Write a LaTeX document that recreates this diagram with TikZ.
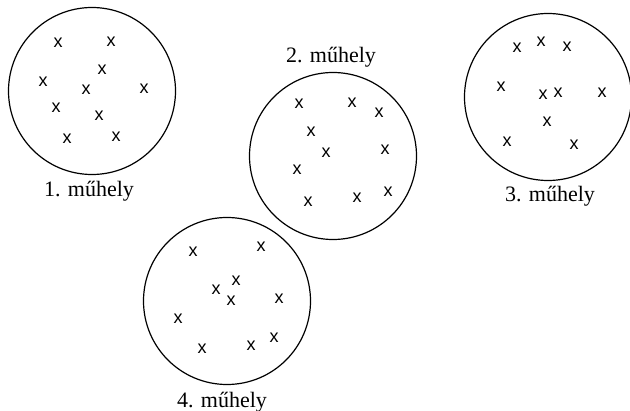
\documentclass[tikz,border=0pt]{standalone}
\usepackage{fontspec}
\setsansfont{Liberation Sans}
\setmainfont{Liberation Serif}
\begin{document}
\begin{tikzpicture}[x=1pt,y=-1pt,
  shop/.style={circle,draw,line width=1.2pt,minimum size=167pt,inner sep=0pt},
  xmark/.style={font=\sffamily\fontsize{18}{18}\selectfont,inner sep=0pt},
  lbl/.style={font=\fontsize{22}{22}\selectfont,inner sep=0pt}]
\useasboundingbox (0,0) rectangle (630,411);
\node[shop] (c1) at (92,91) {};
\node[shop] (c2) at (333,156) {};
\node[shop] (c3) at (548,97) {};
\node[shop] (c4) at (227,301) {};
\node[lbl] (l1) at (89,191) {1. műhely};
\node[lbl] (l2) at (331,57) {2. műhely};
\node[lbl] (l3) at (550,196) {3. műhely};
\node[lbl] (l4) at (222,402) {4. műhely};
% circle 1
\foreach \p [count=\i] in {(58,43),(111,42),(102,70),(43,82),(86,90),(144,89),(56,108),(99,116),(67,139),(116,137)}
  \node[xmark] (a\i) at \p {x};
% circle 2
\foreach \p [count=\i] in {(299,104),(352,103),(379,113),(311,132),(326,153),(385,150),(297,170),(308,202),(357,198),(388,192)}
  \node[xmark] (b\i) at \p {x};
% circle 3
\foreach \p [count=\i] in {(517,48),(541,42),(567,47),(501,87),(543,95),(558,93),(602,93),(547,122),(507,142),(574,145)}
  \node[xmark] (d\i) at \p {x};
% circle 4
\foreach \p [count=\i] in {(193,252),(261,247),(236,281),(216,290),(231,301),(279,299),(178,319),(202,349),(251,346),(274,338)}
  \node[xmark] (e\i) at \p {x};
\end{tikzpicture}
\end{document}
